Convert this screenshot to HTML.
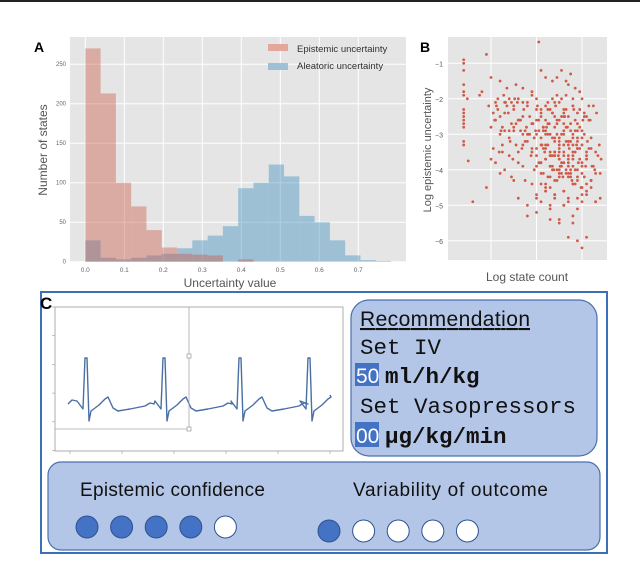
<!DOCTYPE html>
<html><head><meta charset="utf-8"><style>
body{margin:0;background:#fff;width:640px;height:562px;overflow:hidden;position:relative;font-family:"Liberation Sans",sans-serif}
.abs{position:absolute}
</style></head><body>
<div class="abs" style="left:0;top:0;width:640px;height:2px;background:#222"></div>
<svg class="abs" style="left:0;top:0" width="640" height="562">
<g id="pa"></g>
<g id="pb"></g>
<rect x="41" y="292" width="566" height="261" fill="none" stroke="#3b70b8" stroke-width="2"/>
<text x="40" y="309" font-size="17" font-weight="bold">C</text>
<g id="ecg"></g>
<rect x="351" y="300" width="246" height="156" rx="18" fill="#b4c6e7" stroke="#4a6fb0" stroke-width="1.2"/>
<g font-family="Liberation Mono,monospace" font-size="22.5" fill="#111">
<text x="360" y="326" font-family="Liberation Sans,sans-serif" font-size="21" text-decoration="underline" textLength="170">Recommendation</text>
<text x="360" y="354">Set IV</text>
<rect x="355" y="363" width="24" height="23" fill="#4472c4"/>
<text x="356" y="383" fill="#fff" font-family="Liberation Sans,sans-serif" font-size="21">50</text>
<text x="385" y="383" font-weight="bold">ml/h/kg</text>
<text x="360" y="413">Set Vasopressors</text>
<rect x="355" y="422" width="24" height="25" fill="#4472c4"/>
<text x="356" y="443" fill="#fff" font-family="Liberation Sans,sans-serif" font-size="21">00</text>
<text x="385" y="443" font-weight="bold">µg/kg/min</text>
</g>
<rect x="48" y="462" width="552" height="88" rx="13" fill="#b4c6e7" stroke="#4a6fb0" stroke-width="1.2"/>
<text x="80" y="496" font-size="19" fill="#111" textLength="185">Epistemic confidence</text>
<text x="353" y="496" font-size="19" fill="#111" textLength="195">Variability of outcome</text>
<g id="dots"></g>
</svg>
<script>
const NS="http://www.w3.org/2000/svg";
function mk(p,t,a){const e=document.createElementNS(NS,t);for(const k in a)e.setAttribute(k,a[k]);p.appendChild(e);return e;}
// Panel A data
const binWidth=0.0392;
const aleatoricCounts=[27,5,3,5,8,10,17,27,33,45,93,100,123,108,58,50,27,8,2,1];
const epistemicCounts=[270,213,100,70,40,18,10,9,8,0,3];
const xTicksA=[0.0,0.1,0.2,0.3,0.4,0.5,0.6,0.7];
const yTicksA=[0,50,100,150,200,250];
// Panel B data [logCount, logEpistemic]
const scatterX=[0.4,0.4,0.4,0.4,0.4,0.4,0.4,0.4,0.4,0.4,0.4,0.4,0.4,0.4,0.48,0.5,0.6,0.9,0.9,0.75,0.8,0.95,1.0,1.0,1.05,1.1,1.15,1.2,1.25,1.3,1.35,1.4,1.45,1.5,1.55,1.6,1.65,1.7,1.75,1.8,1.85,1.9,1.95,2.0,2.05,2.1,2.15,2.2,2.25,2.3,2.35,2.4,2.45,2.5,2.55,2.6,2.65,2.7,2.75,2.8,2.85,2.9,2.95,3.0,3.05,3.1,3.15,3.2,3.3,3.4,
1.05,1.1,1.2,1.3,1.4,1.5,1.6,1.7,1.8,1.9,2.0,2.1,2.2,2.3,2.4,2.5,2.6,2.7,2.8,2.9,3.0,3.1,3.2,3.3,
1.0,1.15,1.25,1.35,1.45,1.55,1.65,1.75,1.85,1.95,2.05,2.15,2.25,2.35,2.45,2.55,2.65,2.75,2.85,2.95,3.05,3.15,3.25,3.35,
1.1,1.2,1.3,1.4,1.5,1.6,1.7,1.8,1.9,2.0,2.1,2.2,2.3,2.4,2.5,2.6,2.7,2.8,2.9,3.0,3.1,3.2,
1.3,1.5,1.7,1.9,2.0,2.1,2.2,2.3,2.4,2.5,2.6,2.7,2.8,2.9,3.0,3.1,3.2,3.3,
1.6,1.8,2.0,2.1,2.2,2.3,2.4,2.5,2.6,2.7,2.8,2.9,3.0,3.1,
1.8,2.0,2.2,2.3,2.4,2.5,2.6,2.7,2.8,2.9,3.0,
1.4,1.7,2.0,2.2,2.35,2.5,2.65,2.8,2.95,3.1,3.25,
1.2,1.45,1.6,1.9,2.1,2.2,2.4,2.45,2.55,2.6,2.7,2.75,2.85,2.9,3.0,
1.25,1.55,1.75,2.05,2.15,2.25,2.35,2.5,2.6,2.7,2.8,2.9,
2.0,2.1,2.2,2.3,2.4,2.5,2.6,2.7,2.8,2.9,2.3,2.4,2.5,2.6,2.7,2.8,2.35,2.45,2.55,2.65,2.75,
2.1,2.2,2.3,2.4,2.5,2.6,2.7,2.8,2.9,3.0,2.15,2.25,2.35,2.45,2.55,2.65,2.75,2.85,
1.12,1.22,1.32,1.42,1.52,1.62,1.72,1.82,1.92,2.02,2.12,2.22,2.32,2.42,2.52,2.62,2.72,2.82,2.92,3.02,3.12,3.22,3.32,3.42,
1.08,1.18,1.28,1.38,1.48,1.58,1.68,1.78,1.88,1.98,2.08,2.18,2.28,2.38,2.48,2.58,2.68,2.78,2.88,2.98,3.08,3.18,3.28,3.38,
1.9,2.0,2.1,2.2,2.3,2.4,2.5,2.6,2.7,2.8,2.9,3.0,3.1,2.05,2.15,2.25,2.35,2.45,2.55,2.65,2.75,2.85,2.95,3.05,
1.5,1.6,1.7,1.8,1.9,2.0,2.1,2.2,2.3,2.4,2.5,2.6,2.7,2.8,2.9,3.0,3.1,3.2,3.3,3.4,
2.2,2.3,2.4,2.5,2.6,2.7,2.8,2.9,3.0,3.1,2.25,2.35,2.45,2.55,2.65,2.75,2.85,2.95,3.05,3.15];
const scatterY=[-0.9,-1.0,-1.2,-1.6,-1.8,-1.9,-2.3,-2.4,-2.5,-2.6,-2.7,-2.8,-3.2,-3.3,-2.0,-3.75,-4.9,-0.75,-4.5,-1.9,-1.8,-2.2,-2.8,-1.4,-2.4,-3.8,-2.0,-1.5,-3.3,-2.1,-1.7,-2.9,-4.2,-2.2,-1.6,-3.5,-2.6,-1.7,-4.3,-2.1,-3.0,-1.9,-4.0,-2.3,-0.4,-1.2,-3.4,-1.4,-2.1,-5.4,-1.5,-2.5,-1.9,-3.2,-1.2,-2.7,-1.5,-3.6,-1.3,-2.2,-4.0,-2.9,-1.8,-3.1,-2.4,-3.7,-2.2,-3.4,-4.1,-4.8,
-3.4,-2.6,-4.1,-2.9,-3.1,-2.3,-3.8,-2.5,-3.2,-2.7,-3.6,-2.4,-3.0,-3.5,-2.8,-3.3,-2.5,-3.9,-3.0,-3.4,-2.9,-3.6,-3.1,-3.5,
-3.7,-2.3,-3.5,-2.2,-2.7,-3.3,-2.9,-3.2,-2.5,-3.1,-3.8,-2.9,-3.3,-3.6,-3.0,-3.9,-3.2,-4.1,-3.5,-3.7,-4.2,-3.4,-3.9,-3.6,
-2.1,-3.0,-2.4,-3.6,-2.8,-2.6,-3.0,-2.2,-3.4,-2.6,-2.5,-3.7,-2.3,-3.1,-3.5,-2.9,-3.7,-3.3,-4.0,-3.9,-4.4,-4.3,
-4.0,-4.3,-3.9,-4.4,-4.7,-4.1,-4.5,-4.2,-4.3,-4.0,-4.6,-4.1,-4.4,-4.2,-4.7,-4.6,-4.5,-4.9,
-4.8,-5.3,-4.8,-4.9,-4.6,-5.0,-4.7,-5.4,-5.0,-4.8,-5.5,-5.1,-4.9,-5.9,
-5.0,-5.2,-4.4,-5.1,-4.7,-5.5,-5.0,-5.9,-5.3,-6.0,-6.2,
-2.0,-2.1,-2.0,-2.2,-2.0,-2.1,-1.9,-2.0,-2.3,-2.5,-2.2,
-2.5,-2.1,-2.0,-1.8,-2.3,-2.6,-2.1,-1.4,-2.0,-2.4,-1.6,-2.7,-1.7,-2.4,-2.0,
-2.8,-2.7,-2.9,-2.6,-2.8,-2.7,-2.4,-2.6,-2.3,-2.5,-2.2,-2.7,
-3.0,-3.1,-2.9,-3.0,-3.2,-3.1,-3.0,-3.3,-3.1,-3.2,-3.6,-3.5,-3.7,-3.6,-3.8,-3.7,-3.9,-4.0,-3.8,-4.1,-4.0,
-3.3,-3.4,-3.6,-3.5,-3.4,-3.3,-3.2,-3.5,-3.1,-3.8,-4.1,-4.2,-4.0,-4.3,-4.1,-4.0,-4.2,-4.4,
-2.2,-2.9,-2.1,-3.2,-2.0,-2.6,-2.3,-3.0,-2.7,-2.2,-3.3,-2.8,-3.6,-2.2,-3.9,-2.5,-3.4,-2.3,-3.8,-2.6,-3.2,-3.9,-2.4,-3.7,
-2.6,-3.5,-1.9,-2.4,-3.7,-2.1,-3.4,-2.8,-3.6,-2.9,-3.8,-3.5,-2.7,-4.0,-3.6,-4.2,-2.8,-4.3,-3.3,-4.5,-3.9,-2.6,-4.0,-3.3,
-3.5,-3.4,-3.8,-3.3,-3.9,-3.6,-3.7,-3.5,-3.2,-3.6,-3.4,-3.3,-3.5,-2.9,-2.8,-3.0,-3.1,-2.6,-3.0,-2.8,-3.2,-2.9,-3.4,-3.0,
-2.9,-2.6,-3.3,-3.0,-2.7,-3.9,-4.4,-4.6,-4.5,-4.8,-4.2,-4.6,-4.9,-4.4,-4.8,-4.5,-4.7,-4.3,-4.9,-4.1,
-3.7,-3.9,-3.6,-4.1,-3.8,-4.2,-3.9,-4.3,-4.1,-3.7,-2.3,-2.4,-2.7,-2.5,-2.3,-2.9,-2.6,-2.8,-2.5,-2.6];
const yTicksB=[-1,-2,-3,-4,-5,-6];
const xGridB=[1,2,3];
// ECG
const beatX=[85,163,239,308];
const epistemicDots=[1,1,1,1,0];
const variabilityDots=[1,0,0,0,0];

// ---- Panel A
const pa=document.getElementById('pa');
const AX0=70,AX1=406,AY0=37,AY1=262;
const ax=v=>85.3+v*390, ay=c=>261.7-c*0.79;
mk(pa,'rect',{x:AX0,y:AY0,width:AX1-AX0,height:AY1-AY0,fill:'#e5e5e5'});
yTicksA.forEach(t=>{const l=mk(pa,'line',{x1:AX0,x2:AX1,y1:ay(t),y2:ay(t),stroke:'#fff','stroke-width':1});
const tx=mk(pa,'text',{x:AX0-4,y:ay(t)+2,'font-size':6,fill:'#666','text-anchor':'end'});tx.textContent=t;});
xTicksA.forEach(t=>{const l=mk(pa,'line',{x1:ax(t),x2:ax(t),y1:AY0,y2:AY1,stroke:'#fff','stroke-width':1});
const tx=mk(pa,'text',{x:ax(t),y:AY1+10,'font-size':6.5,fill:'#666','text-anchor':'middle'});tx.textContent=t.toFixed(1);});
aleatoricCounts.forEach((c,i)=>{const r=mk(pa,'rect',{x:ax(i*binWidth),y:ay(c),width:binWidth*390,height:c*0.79,fill:'#348abd','fill-opacity':0.4});});
epistemicCounts.forEach((c,i)=>{const r=mk(pa,'rect',{x:ax(i*binWidth),y:ay(c),width:binWidth*390,height:c*0.79,fill:'#c8553f','fill-opacity':0.4});});
let t;
t=mk(pa,'text',{x:34,y:52,'font-size':14,'font-weight':'bold'});t.textContent='A';
t=mk(pa,'text',{x:230,y:287,'font-size':12,fill:'#555','text-anchor':'middle'});t.textContent='Uncertainty value';
t=mk(pa,'text',{x:0,y:0,'font-size':12,fill:'#555','text-anchor':'middle',transform:'translate(47,150) rotate(-90)'});t.textContent='Number of states';
const lg=mk(pa,'g',{});
mk(lg,'rect',{x:268,y:44,width:20,height:7,fill:'#e4a79e'});
mk(lg,'rect',{x:268,y:63,width:20,height:7,fill:'#9ec0d5'});
t=mk(lg,'text',{x:297,y:52,'font-size':9.5,fill:'#333'});t.textContent='Epistemic uncertainty';
t=mk(lg,'text',{x:297,y:69,'font-size':9.5,fill:'#333'});t.textContent='Aleatoric uncertainty';

// ---- Panel B
const pb=document.getElementById('pb');
const BX0=448,BX1=607,BY0=37,BY1=260;
const bx=v=>491+(v-1)*45.5, by=v=>63.3+(-1-v)*35.5;
mk(pb,'rect',{x:BX0,y:BY0,width:BX1-BX0,height:BY1-BY0,fill:'#e5e5e5'});
yTicksB.forEach(v=>{const l=mk(pb,'line',{x1:BX0,x2:BX1,y1:by(v),y2:by(v),stroke:'#fff'});
const tx=mk(pb,'text',{x:BX0-5,y:by(v)+3,'font-size':7,fill:'#555','text-anchor':'end'});tx.textContent='\u2212'+Math.abs(v);});
xGridB.forEach(v=>{const l=mk(pb,'line',{x1:bx(v),x2:bx(v),y1:BY0,y2:BY1,stroke:'#fff'});});
scatterX.forEach((x,i)=>{const c=mk(pb,'circle',{cx:bx(x),cy:by(scatterY[i]),r:1.4,fill:'#d05a48'});});
t=mk(pb,'text',{x:420,y:52,'font-size':14,'font-weight':'bold'});t.textContent='B';
t=mk(pb,'text',{x:527,y:281,'font-size':12,fill:'#555','text-anchor':'middle'});t.textContent='Log state count';
t=mk(pb,'text',{x:0,y:0,'font-size':11,fill:'#555','text-anchor':'middle',transform:'translate(431,150) rotate(-90)'});t.textContent='Log epistemic uncertainty';

// ---- ECG
const eg=document.getElementById('ecg');
mk(eg,'rect',{x:55,y:307,width:288,height:144,fill:'#fff',stroke:'#999','stroke-width':0.8});
for(let i=0;i<6;i++){mk(eg,'line',{x1:55,x2:52,y1:307+i*28.7,y2:307+i*28.7,stroke:'#999','stroke-width':0.6});mk(eg,'line',{x1:70+i*52,x2:70+i*52,y1:451,y2:454,stroke:'#999','stroke-width':0.6});}
let d='M68,404 L72,400 ';
beatX.forEach((b,i)=>{d+=`L${b-8},401 L${b-5},405 L${b-2},409 L${b},358 L${b+2},358 L${b+4},421 L${b+6},411 L${b+14},405 L${b+20},399 L${b+23},397 `;
 if(i<beatX.length-1)d+=`L${b+28},408 L${b+33},411 L${b+45},409 L${b+60},406 L${b+65},403 L${b+69},404 `;});
d+='L330,395';
const ep=mk(eg,'path',{d:d,fill:'none',stroke:'#4a6fa5','stroke-width':1.4,'stroke-linejoin':'round'});
mk(eg,'line',{x1:189,x2:189,y1:307,y2:429,stroke:'#aaa','stroke-width':0.8});
mk(eg,'line',{x1:55,x2:189,y1:429,y2:429,stroke:'#aaa','stroke-width':0.8});
mk(eg,'rect',{x:187,y:354,width:4,height:4,fill:'#fff',stroke:'#888','stroke-width':0.6});
mk(eg,'rect',{x:187,y:427,width:4,height:4,fill:'#fff',stroke:'#888','stroke-width':0.6});

// ---- dots
const dg=document.getElementById('dots');
epistemicDots.forEach((f,i)=>{const c=mk(dg,'circle',{cx:87+i*34.6,cy:527,r:11,fill:f?'#4472c4':'#fff',stroke:'#2f528f','stroke-width':1});});
variabilityDots.forEach((f,i)=>{const c=mk(dg,'circle',{cx:329+i*34.6,cy:531,r:11,fill:f?'#4472c4':'#fff',stroke:'#2f528f','stroke-width':1});});
</script>
</body></html>
